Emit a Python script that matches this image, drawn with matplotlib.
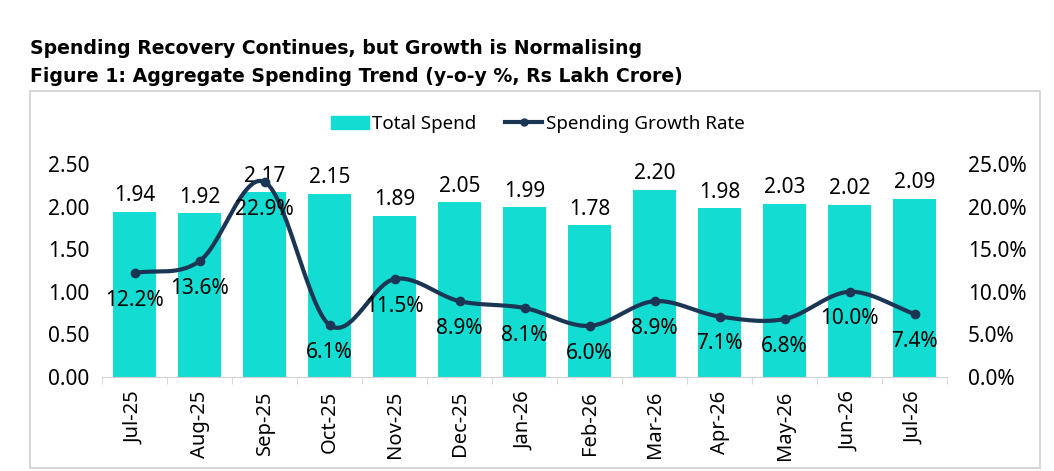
"""Aggregate spending trend: bars for total spend, smoothed line for y-o-y growth."""

import matplotlib

matplotlib.use("Agg")
import matplotlib.pyplot as plt
import numpy as np
from matplotlib.lines import Line2D
from matplotlib.patches import Patch, Rectangle

months = ["Jul-25", "Aug-25", "Sep-25", "Oct-25", "Nov-25", "Dec-25", "Jan-26",
          "Feb-26", "Mar-26", "Apr-26", "May-26", "Jun-26", "Jul-26"]
total_spend = [1.94, 1.92, 2.17, 2.15, 1.89, 2.05, 1.99, 1.78, 2.20, 1.98, 2.03, 2.02, 2.09]
growth_rate = [12.2, 13.6, 22.9, 6.1, 11.5, 8.9, 8.1, 6.0, 8.9, 7.1, 6.8, 10.0, 7.4]

BAR_COLOR = "#13DCD2"
LINE_COLOR = "#1B3654"
FONT = "Noto Sans"
FS_NUM = 15
FS_MONTH = 14.5
FS_LEGEND = 13.5


def smooth(x, y, n=30):
    """Catmull-Rom spline through the points, like Excel's smoothed line."""
    x = np.asarray(x, float)
    y = np.asarray(y, float)
    px = np.concatenate([[2 * x[0] - x[1]], x, [2 * x[-1] - x[-2]]])
    py = np.concatenate([[2 * y[0] - y[1]], y, [2 * y[-1] - y[-2]]])
    t = np.linspace(0, 1, n)
    xs, ys = [], []
    for i in range(1, len(px) - 2):
        for p, out in ((px, xs), (py, ys)):
            p0, p1, p2, p3 = p[i - 1], p[i], p[i + 1], p[i + 2]
            out.append(0.5 * (2 * p1 + (-p0 + p2) * t
                              + (2 * p0 - 5 * p1 + 4 * p2 - p3) * t ** 2
                              + (-p0 + 3 * p1 - 3 * p2 + p3) * t ** 3))
    return np.concatenate(xs), np.concatenate(ys)


fig = plt.figure(figsize=(10.54, 4.71), dpi=100)
fig.patches.append(Rectangle((30 / 1054, 3 / 471), 1010 / 1054, 377 / 471,
                             transform=fig.transFigure, fill=False,
                             edgecolor="#D0D0D0", linewidth=1.2))
fig.text(30 / 1054, 1 - 48 / 471, "Spending Recovery Continues, but Growth is Normalising",
         fontsize=13.6, fontweight="bold", family="DejaVu Sans", va="center")
fig.text(30 / 1054, 1 - 77 / 471, "Figure 1: Aggregate Spending Trend (y-o-y %, Rs Lakh Crore)",
         fontsize=13.6, fontweight="bold", family="DejaVu Sans", va="center")

ax = fig.add_axes([102 / 1054, 1 - 377 / 471, 845 / 1054, 213 / 471])
x = np.arange(len(months))
bars = ax.bar(x, total_spend, width=0.66, color=BAR_COLOR, zorder=2)
ax.bar_label(bars, labels=[f"{v:.2f}" for v in total_spend], padding=4,
             fontsize=FS_NUM, family=FONT)
ax.set_xlim(-0.5, len(months) - 0.5)
ax.set_ylim(0, 2.5)
ax.set_yticks(np.arange(0, 2.51, 0.5))
ax.set_yticklabels([f"{v:.2f}" for v in np.arange(0, 2.51, 0.5)], fontsize=FS_NUM, family=FONT)
ax.set_xticks(x)
ax.set_xticklabels(months, rotation=90, fontsize=FS_MONTH, family=FONT)
ax.set_xticks(np.arange(-0.5, len(months), 1), minor=True)
ax.tick_params(axis="x", which="major", length=0, pad=10)
ax.tick_params(axis="x", which="minor", length=5, color="#D0D0D0")
ax.tick_params(axis="y", length=0, pad=9)
for side in ("left", "right", "top"):
    ax.spines[side].set_visible(False)
ax.spines["bottom"].set_color("#D0D0D0")

ax2 = ax.twinx()
sx, sy = smooth(x, growth_rate)
ax2.plot(sx, sy, color=LINE_COLOR, linewidth=3, zorder=3, solid_capstyle="round")
ax2.plot(x, growth_rate, "o", color=LINE_COLOR, markersize=6, zorder=4)
for xi, g in zip(x, growth_rate):
    ax2.annotate(f"{g:.1f}%", (xi, g), xytext=(0, -12), textcoords="offset points",
                 ha="center", va="top", fontsize=FS_NUM, family=FONT)
ax2.set_ylim(0, 25)
ax2.set_yticks(np.arange(0, 25.1, 5))
ax2.set_yticklabels([f"{v:.1f}%" for v in np.arange(0, 25.1, 5)], fontsize=FS_NUM, family=FONT)
ax2.tick_params(axis="y", length=0, pad=15)
for side in ("left", "right", "top", "bottom"):
    ax2.spines[side].set_visible(False)

handles = [Patch(color=BAR_COLOR, label="Total Spend"),
           Line2D([], [], color=LINE_COLOR, linewidth=3, marker="o", markersize=5,
                  label="Spending Growth Rate")]
fig.legend(handles=handles, loc="center", bbox_to_anchor=(538 / 1054, 1 - 124 / 471),
           ncol=2, frameon=False, prop={"family": FONT, "size": FS_LEGEND},
           handlelength=2.0, handletextpad=0.2, columnspacing=1.5)

fig.savefig("out.png", dpi=100)
